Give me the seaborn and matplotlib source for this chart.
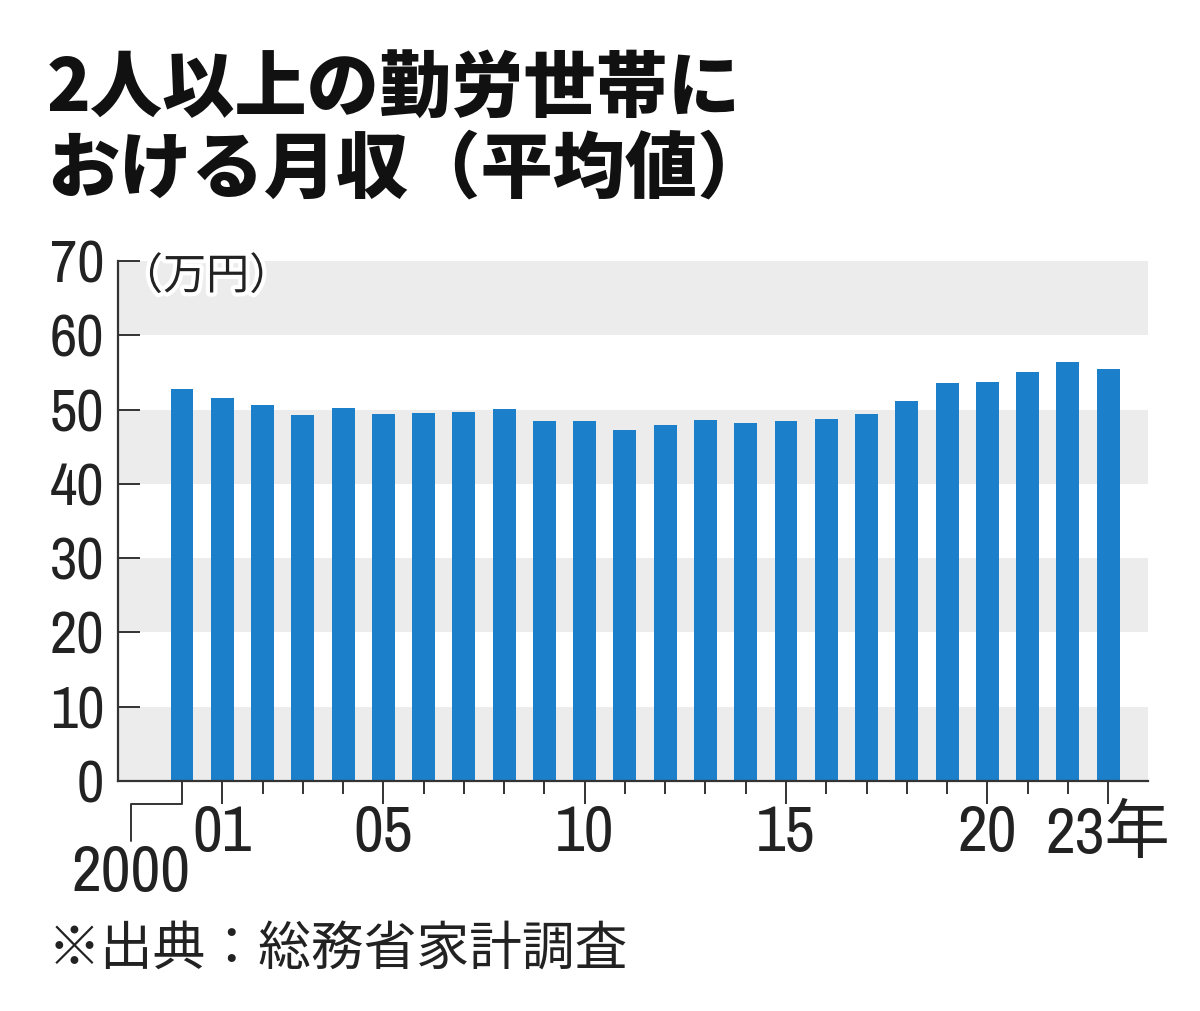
import matplotlib
matplotlib.use("Agg")
import matplotlib.pyplot as plt
import matplotlib.patheffects as pe
from matplotlib import font_manager
from matplotlib.transforms import offset_copy
import seaborn as sns

# data (万円)
years = list(range(2000, 2024))
income = [52.8, 51.5, 50.6, 49.3, 50.2, 49.4, 49.5, 49.7, 50.1, 48.5, 48.5, 47.2,
          47.9, 48.6, 48.2, 48.5, 48.7, 49.4, 51.1, 53.6, 53.7, 55.0, 56.4, 55.4]
yticks = [0, 10, 20, 30, 40, 50, 60, 70]
major_idx = [0, 1, 5, 10, 15, 20, 23]
major_labels = ["", "01", "05", "10", "15", "20", "23年"]
title1 = "2人以上の勤労世帯に"
title2 = "おける月収（平均値）"
unit_label = "（万円）"
source = "※出典：総務省家計調査"

bar_color = "#1b7fca"
band_color = "#ececec"
ink = "#222222"

sns.set_style("ticks")
cjk = "Noto Sans CJK JP"

# look for a narrow face for the numbers
num_font, num_stretch = "DejaVu Sans", "normal"
entries = font_manager.fontManager.ttflist
narrow = [f for f in entries if ("Narrow" in f.name or "Condensed" in f.name)
          and f.weight in (400, "normal", "regular") and f.style == "normal"]
if narrow:
    num_font = narrow[0].name
else:
    cond = [f for f in entries if f.stretch in ("condensed", "semi-condensed", 87.5, 75)
            and f.style == "normal"]
    if cond:
        num_font, num_stretch = cond[0].name, "condensed"
plt.rcParams["font.family"] = [num_font, cjk]
num_fam = [num_font, cjk]

fig = plt.figure(figsize=(12, 10.11), dpi=100)
ax = fig.add_axes([118 / 1200, 1 - 781 / 1011, (1148 - 118) / 1200, (781 - 261) / 1011])

df_x = [str(y) for y in years]
sns.barplot(x=df_x, y=income, color=bar_color, saturation=1, width=0.57, ax=ax,
            zorder=2, linewidth=0)

for lo in yticks[:-1:2]:
    ax.axhspan(lo, lo + 10, color=band_color, lw=0, zorder=0)

ax.set_ylim(0, 70)
ax.set_xlim(-1.59, 23.99)
ax.set_xlabel("")
ax.set_ylabel("")

for s in ["top", "right"]:
    ax.spines[s].set_visible(False)
for s in ["left", "bottom"]:
    ax.spines[s].set_color("#333333")
    ax.spines[s].set_linewidth(1.6)
    ax.spines[s].set_zorder(3)

ax.set_yticks(yticks)
ax.set_yticklabels([str(v) for v in yticks])
ax.tick_params(axis="y", left=True, direction="in", length=16, width=1.4, color="#333333",
               pad=10, labelsize=43, labelcolor=ink)
for t in ax.get_yticklabels():
    t.set_family(num_fam)
    t.set_stretch(num_stretch)

ax.set_xticks(major_idx)
ax.set_xticklabels(major_labels)
ax.set_xticks(range(len(years)), minor=True)
ax.tick_params(axis="x", which="major", bottom=True, direction="out", length=16.5, width=1.4,
               color="#333333", pad=0, labelsize=47, labelcolor=ink)
ax.tick_params(axis="x", which="minor", bottom=True, direction="out", length=9.5, width=1.4,
               color="#333333")
for t in ax.get_xticklabels():
    t.set_family(num_fam)
    t.set_stretch(num_stretch)

# bracket label for the first year
tick_end = offset_copy(ax.get_xaxis_transform(), fig=fig, y=-23, units="dots")
ax.annotate(str(years[0]), xy=(0, 0), xycoords=tick_end,
            xytext=(-51, -40), textcoords="offset pixels",
            ha="center", va="top", fontsize=47, color=ink, family=num_fam,
            fontstretch=num_stretch, annotation_clip=False,
            arrowprops=dict(arrowstyle="-", color="#333333", lw=1.4,
                            shrinkA=0, shrinkB=0, relpos=(0.5, 1.0),
                            connectionstyle="angle,angleA=90,angleB=0,rad=0"))

# unit label
ax.annotate(unit_label, xy=(0, 70), xycoords=("axes fraction", "data"),
            xytext=(2, -16), textcoords="offset pixels", ha="left", va="center",
            fontsize=31, color=ink, family=[cjk], annotation_clip=False,
            path_effects=[pe.withStroke(linewidth=6, foreground="white")])

fig.text(47 / 1200, 1 - 112 / 1011, title1, fontsize=52, fontweight="black",
         family=[cjk], color="#111111", va="baseline", ha="left")
fig.text(47 / 1200, 1 - 192 / 1011, title2, fontsize=52, fontweight="black",
         family=[cjk], color="#111111", va="baseline", ha="left")
fig.text(48 / 1200, 1 - 965 / 1011, source, fontsize=38, family=[cjk],
         color=ink, va="baseline", ha="left")

fig.savefig("out.png", dpi=100, facecolor="white")
